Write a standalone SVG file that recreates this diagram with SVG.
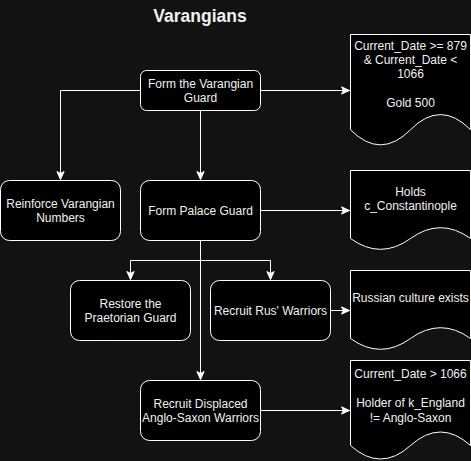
<svg xmlns="http://www.w3.org/2000/svg" width="471" height="461" viewBox="0 0 471 461">
<style>
.box{fill:#000;stroke:#fff;stroke-width:1}
.t{font-family:"Liberation Sans",Arial,sans-serif;font-size:12px;fill:#f0f0f0;text-anchor:middle}
.title{font-family:"Liberation Sans",Arial,sans-serif;font-size:17.5px;font-weight:bold;fill:#f0f0f0;text-anchor:middle}
.e{fill:none;stroke:#fff;stroke-width:1}
</style>
<defs>
<marker id="arr" markerUnits="userSpaceOnUse" markerWidth="10" markerHeight="10" viewBox="-9 -5 10 10" refX="0" refY="0" orient="auto">
<path d="M0,0 L-8,-3.6 L-6,0 L-8,3.6 Z" fill="#fff" stroke="#fff" stroke-width="1"/>
</marker>
</defs>
<rect width="471" height="461" fill="#121212"/>
<text class="title" x="200" y="22">Varangians</text>
<g transform="translate(0.5,0.5)">
<g id="connectors">
<path class="e" d="M260,90 H349" marker-end="url(#arr)"/>
<path class="e" d="M140,90 H60 V179" marker-end="url(#arr)"/>
<path class="e" d="M200,110 V179" marker-end="url(#arr)"/>
<path class="e" d="M260,210 H349" marker-end="url(#arr)"/>
<path class="e" d="M200,240 V260 H130 V279" marker-end="url(#arr)"/>
<path class="e" d="M200,260 H270 V279" marker-end="url(#arr)"/>
<path class="e" d="M200,240 V379" marker-end="url(#arr)"/>
<path class="e" d="M330,310 H349" marker-end="url(#arr)"/>
<path class="e" d="M260,410 H349" marker-end="url(#arr)"/>
</g>
<g id="form-varangian-guard">
<rect class="box" x="140" y="70" width="120" height="40" rx="6"/>
<text class="t" x="200" y="87">Form the Varangian</text>
<text class="t" x="200" y="101.4">Guard</text>
</g>
<g id="reinforce">
<rect class="box" x="0" y="180" width="120" height="60" rx="9"/>
<text class="t" x="60" y="207">Reinforce Varangian</text>
<text class="t" x="60" y="221.4">Numbers</text>
</g>
<g id="form-palace-guard">
<rect class="box" x="140" y="180" width="120" height="60" rx="9"/>
<text class="t" x="200" y="214.2">Form Palace Guard</text>
</g>
<g id="restore-praetorian">
<rect class="box" x="70" y="280" width="120" height="60" rx="9"/>
<text class="t" x="130" y="307">Restore the</text>
<text class="t" x="130" y="321.4">Praetorian Guard</text>
</g>
<g id="recruit-rus">
<rect class="box" x="210" y="280" width="120" height="60" rx="9"/>
<text class="t" x="270" y="314.2">Recruit Rus' Warriors</text>
</g>
<g id="recruit-anglo-saxon">
<rect class="box" x="140" y="380" width="120" height="60" rx="9"/>
<text class="t" x="200" y="407">Recruit Displaced</text>
<text class="t" x="200" y="421.4">Anglo-Saxon Warriors</text>
</g>
<g id="doc-date">
<path class="box" d="M350,34 H470 V129.2 Q440,98.96 410,129.2 Q380,159.44 350,129.2 Z"/>
<text class="t" x="410" y="49.2">Current_Date &gt;= 879</text>
<text class="t" x="410" y="63.4">&amp; Current_Date &lt;</text>
<text class="t" x="410" y="77.6">1066</text>
<text class="t" x="410" y="106">Gold 500</text>
</g>
<g id="doc-constantinople">
<path class="box" d="M350,170 H470 V238 Q440,216.4 410,238 Q380,259.6 350,238 Z"/>
<text class="t" x="410" y="195">Holds</text>
<text class="t" x="410" y="209.4">c_Constantinople</text>
</g>
<g id="doc-russian">
<path class="box" d="M350,270 H470 V338 Q440,316.4 410,338 Q380,359.6 350,338 Z"/>
<text class="t" x="410" y="301.5">Russian culture exists</text>
</g>
<g id="doc-england">
<path class="box" d="M350,360 H470 V445 Q440,418 410,445 Q380,472 350,445 Z"/>
<text class="t" x="410" y="377.4">Current_Date &gt; 1066</text>
<text class="t" x="410" y="406.6">Holder of k_England</text>
<text class="t" x="410" y="421">!= Anglo-Saxon</text>
</g>
</g>
</svg>
